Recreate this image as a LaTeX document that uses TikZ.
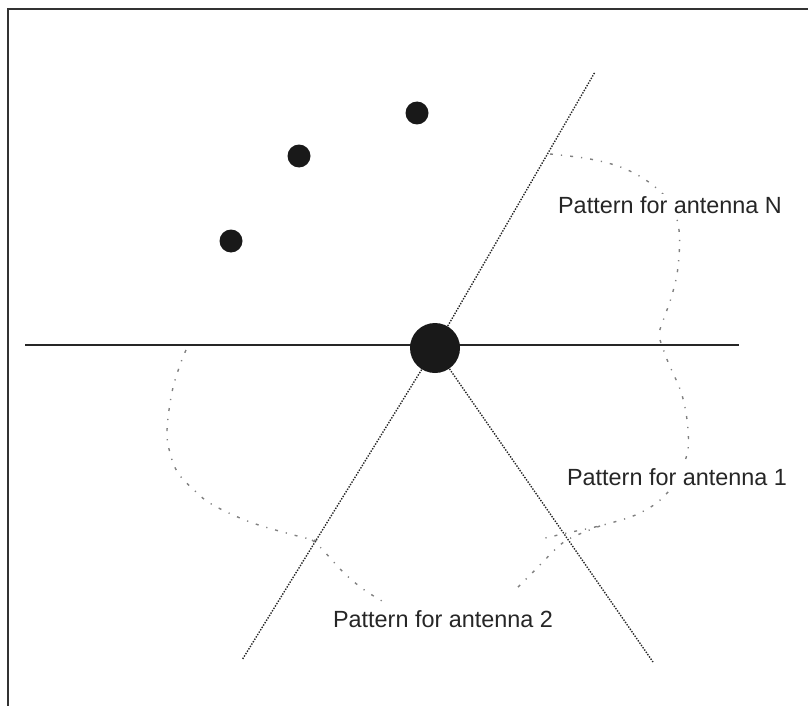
\documentclass[tikz,border=0pt]{standalone}
\usepackage{fontspec}
\setmainfont{Liberation Sans}
\usetikzlibrary{positioning}

\begin{document}
\begin{tikzpicture}[x=0.5pt,y=-0.5pt,
    font=\fontsize{11.7}{14}\selectfont,
    hubdot/.style={circle,fill=black!90,inner sep=0pt,minimum size=25pt},
    antdot/.style={circle,fill=black!90,inner sep=0pt,minimum size=11.5pt},
    beam/.style={line width=0.7pt,black!85,dash pattern=on 0.7pt off 0.7pt},
    lobe/.style={line width=0.7pt,black!50,
                 dash pattern=on 1.5pt off 4pt on 0.6pt off 4pt},
    patlabel/.style={inner sep=1pt,fill=white,text=black!85}]
  \useasboundingbox (0,0) rectangle (808,706);
  % frame
  \draw[line width=0.7pt,black!80] (808,9) -- (8,9) -- (8,706);
  % horizon and sector borders
  \coordinate (west) at (25,345);
  \coordinate (east) at (739,345);
  \coordinate (tipN) at (595,72);
  \coordinate (tipL) at (242,660);
  \coordinate (tipR) at (653,662);
  \draw[line width=0.9pt,black!85] (west) -- (east);
  \node[hubdot] (hub) at (435,348) {};
  \draw[beam] (hub) -- (tipN);
  \draw[beam] (hub) -- (tipL);
  \draw[beam] (hub) -- (tipR);
  % the other antennas
  \node[antdot] (dotA) at (231,241) {};
  \node[antdot] (dotB) at (299,156) {};
  \node[antdot] (dotC) at (417,113) {};
  % patterns
  \draw[lobe] plot[smooth,tension=0.6] coordinates {(550,154) (590,159)
    (623,168) (650,183) (670,203) (679,230) (678,267) (672,295) (664,318)
    (658,335)};
  \draw[lobe] plot[smooth,tension=0.6] coordinates {(660,340) (668,362)
    (682,395) (688,430) (686,458) (668,492) (642,512) (607,524) (567,533)
    (545,538)};
  \draw[lobe] plot[smooth,tension=0.6] coordinates {(600,526) (575,536)
    (560,545) (538,567) (513,592)};
  \draw[lobe] plot[smooth,tension=0.6] coordinates {(312,540) (322,549)
    (343,572) (363,589) (382,601)};
  \draw[lobe] plot[smooth,tension=0.6] coordinates {(186,350) (180,365)
    (172,392) (167,430) (170,453) (178,473) (195,491) (213,505) (250,522)
    (290,534) (318,541)};
  % labels
  \node[patlabel] (labN) at (670,205) {Pattern for antenna N};
  \node[patlabel] (lab1) at (677,477) {Pattern for antenna 1};
  \node[patlabel] (lab2) at (443,619) {Pattern for antenna 2};
\end{tikzpicture}
\end{document}
